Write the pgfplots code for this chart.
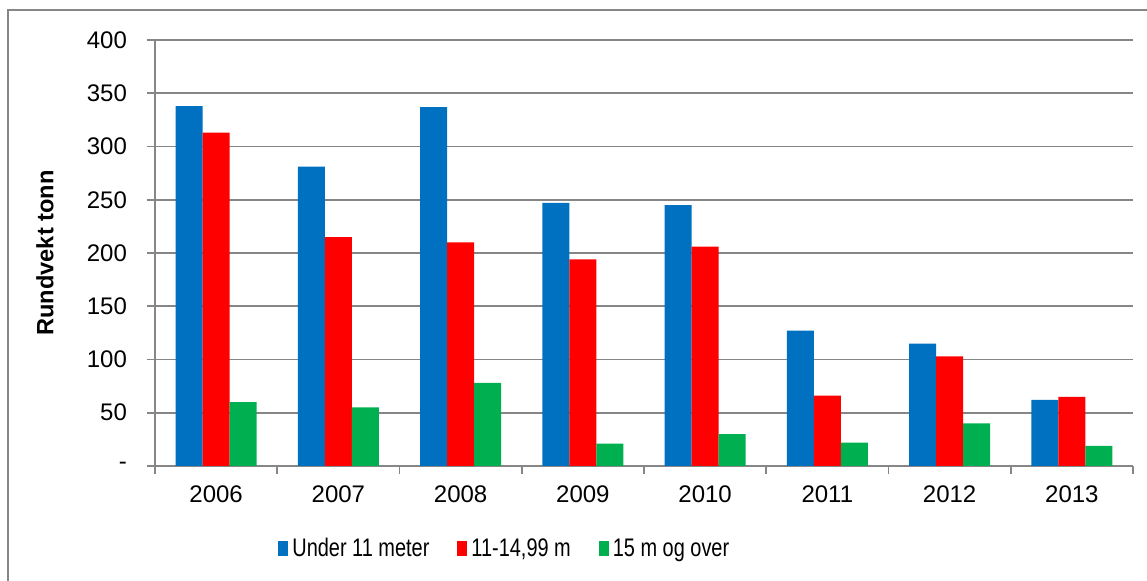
\documentclass[border=0pt]{standalone}
\usepackage{pgfplots}
\pgfplotsset{compat=1.18}
\usepackage{fontspec}
\setmainfont{Liberation Sans}
\usepackage{graphicx}
\definecolor{cblue}{HTML}{0070C0}
\definecolor{cred}{HTML}{FF0000}
\definecolor{cgreen}{HTML}{00B050}
\definecolor{gridgray}{HTML}{868686}
\pgfplotsset{legsq/.style={legend image code/.code={\fill[##1] (0pt,-3.75pt) rectangle (5pt,3.75pt);}}}
\begin{document}
\begin{tikzpicture}
\useasboundingbox (0,0) rectangle (573.5pt,290.5pt);
\draw[gridgray, line width=0.8pt] (4pt,-1pt) -- (4pt,285.5pt) -- (575pt,285.5pt);
\begin{axis}[
  at={(77.5pt,57.5pt)}, anchor=south west,
  scale only axis, width=489pt, height=213pt,
  ybar=0pt, bar width=13.5pt,
  xmin=-0.5, xmax=7.5, ymin=0, ymax=400,
  xtick={-0.5,0.5,...,7.5}, xticklabels={},
  extra x ticks={0,1,2,3,4,5,6,7},
  extra x tick labels={2006,2007,2008,2009,2010,2011,2012,2013},
  extra x tick style={major tick length=0pt, grid=none},
  ytick={0,50,...,400},
  yticklabels={-,50,100,150,200,250,300,350,400},
  ymajorgrids, major grid style={gridgray, line width=0.8pt},
  axis x line*=bottom, axis y line*=left,
  axis line style={gridgray, line width=0.8pt},
  every tick/.style={gridgray, line width=0.8pt},
  tick align=outside, major tick length=4pt,
  tick label style={font=\fontsize{12pt}{14pt}\selectfont, text=black},
  xticklabel style={yshift=-6.5pt},
  yticklabel style={xshift=-6.5pt},
  ylabel={\textbf{Rundvekt tonn}},
  every axis y label/.style={at={(axis description cs:-0.1125,0.5)}, rotate=90, anchor=center, font=\fontsize{11.8pt}{14pt}\selectfont},
  legend style={at={(axis description cs:0.1258,-0.1948)}, anchor=west, draw=none, fill=none,
    legend columns=3, font=\fontsize{12.7pt}{15pt}\selectfont, inner sep=0pt},
  legend cell align=left,
  /tikz/every even column/.append style={column sep=12pt},
]
\addplot[fill=cblue, draw=none, legsq] coordinates {(0,338) (1,281) (2,337) (3,247) (4,245) (5,127) (6,115) (7,62)};
\addplot[fill=cred, draw=none, legsq] coordinates {(0,313) (1,215) (2,210) (3,194) (4,206) (5,66) (6,103) (7,65)};
\addplot[fill=cgreen, draw=none, legsq] coordinates {(0,60) (1,55) (2,78) (3,21) (4,30) (5,22) (6,40) (7,19)};
\legend{\scalebox{0.785}[1]{Under 11 meter},\scalebox{0.785}[1]{11-14,99 m},\scalebox{0.785}[1]{15 m og over}}
\end{axis}
\end{tikzpicture}
\end{document}
